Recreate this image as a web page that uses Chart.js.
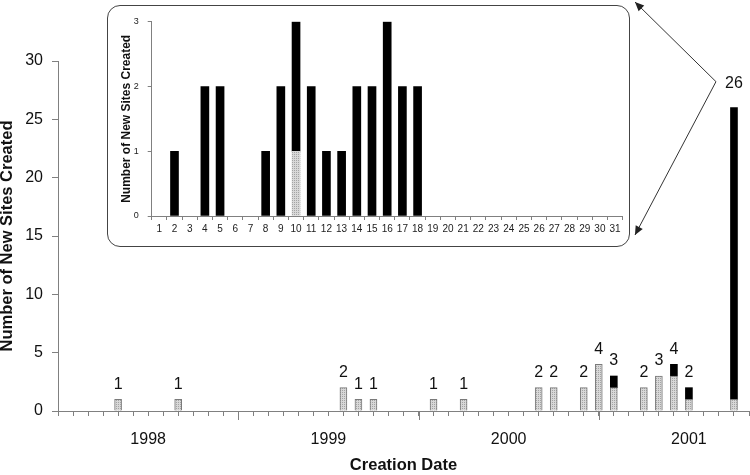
<!DOCTYPE html>
<html><head><meta charset="utf-8">
<script src="https://cdn.jsdelivr.net/npm/chart.js@4/dist/chart.umd.min.js"></script>
<style>
html,body{margin:0;padding:0;background:#fff;}
#wrap{position:relative;width:750px;height:475px;overflow:hidden;}
#main{position:absolute;left:0;top:0;}
#insetBox{position:absolute;left:107px;top:5px;width:523px;height:242px;box-sizing:border-box;border:1px solid #444;border-radius:13px;background:#fff;overflow:hidden;}
#inset{position:absolute;left:0;top:0;}
</style></head><body>
<div id="wrap">
<canvas id="main" width="750" height="475"></canvas>
<div id="insetBox"><canvas id="inset" width="521" height="240"></canvas></div>
</div>
<script>
// ---- Main chart data (monthly) ----
const months = [
 '1998-01','1998-02','1998-03','1998-04','1998-05','1998-06','1998-07','1998-08','1998-09','1998-10','1998-11','1998-12',
 '1999-01','1999-02','1999-03','1999-04','1999-05','1999-06','1999-07','1999-08','1999-09','1999-10','1999-11','1999-12',
 '2000-01','2000-02','2000-03','2000-04','2000-05','2000-06','2000-07','2000-08','2000-09','2000-10','2000-11','2000-12',
 '2001-01','2001-02','2001-03','2001-04','2001-05','2001-06','2001-07','2001-08','2001-09','2001-10','2001-11'
];
const barMonths   = ['1998-05','1998-09','1999-08','1999-09','1999-10','2000-02','2000-04','2000-09','2000-10','2000-12','2001-01','2001-02','2001-04','2001-05','2001-06','2001-07','2001-10'];
const greyValues  = [1,1,2,1,1,1,1,2,2,2,4,2,2,3,3,1,1];
const blackValues = [0,0,0,0,0,0,0,0,0,0,0,1,0,0,1,1,25];
const yearLabels  = ['1998','1999','2000','2001'];

// ---- Inset data (days of the highlighted month) ----
const days = ['1','2','3','4','5','6','7','8','9','10','11','12','13','14','15','16','17','18','19','20','21','22','23','24','25','26','27','28','29','30','31'];
const insetGrey  = [0,0,0,0,0,0,0,0,0,1,0,0,0,0,0,0,0,0,0,0,0,0,0,0,0,0,0,0,0,0,0];
const insetBlack = [0,1,0,2,2,0,0,1,2,2,2,1,1,2,2,3,2,2,0,0,0,0,0,0,0,0,0,0,0,0,0];

// build full monthly series (null where nothing is drawn)
const pick = (arr) => months.map(m => { const i = barMonths.indexOf(m); return (i >= 0 && arr[i] > 0) ? arr[i] : null; });
const greyFull = pick(greyValues);
const blackFull = pick(blackValues);
const nz = (arr) => arr.map(v => v > 0 ? v : null);

function makePattern(){
  const c = document.createElement('canvas'); c.width = 2; c.height = 2;
  const g = c.getContext('2d');
  g.fillStyle = '#d8d8d8'; g.fillRect(0,0,2,2);
  g.fillStyle = '#a4a4a4'; g.fillRect(0,0,1,1);
  return g.createPattern(c, 'repeat');
}
const pat = makePattern();
const FONT = "'Liberation Sans', Arial, sans-serif";

const labelPlugin = {
  id: 'totals',
  afterDatasetsDraw(chart) {
    const ctx = chart.ctx, xs = chart.scales.x, ys = chart.scales.y;
    const totals = months.map((m, i) => (greyFull[i] || 0) + (blackFull[i] || 0));
    const maxT = Math.max(...totals);
    ctx.save();
    ctx.font = '16px ' + FONT;
    ctx.fillStyle = '#111';
    ctx.textAlign = 'center';
    ctx.textBaseline = 'middle';
    totals.forEach((t, i) => {
      if (!t) return;
      const x = xs.getPixelForValue(i);
      const off = (t === maxT) ? 24 : 15;
      ctx.fillText(String(t), x, ys.getPixelForValue(t) - off);
    });
    // long year ticks
    ctx.strokeStyle = '#808080'; ctx.lineWidth = 1;
    months.forEach((m, i) => {
      if (i > 0 && m.endsWith('-01')) {
        const x = Math.round(xs.getPixelForValue(i)) + 0.5;
        ctx.beginPath(); ctx.moveTo(x, ys.bottom); ctx.lineTo(x, ys.bottom + 9); ctx.stroke();
      }
    });
    // arrows from the biggest bar's label to the inset frame
    const iMax = totals.indexOf(maxT);
    const lx = xs.getPixelForValue(iMax), ly = ys.getPixelForValue(maxT) - 24;
    const vx = lx - 18, vy = ly - 2;
    const box = document.getElementById('insetBox');
    const bR = box.offsetLeft + box.offsetWidth, bT = box.offsetTop, bB = box.offsetTop + box.offsetHeight;
    const ends = [[bR + 5, bT - 3], [bR + 5, bB - 12]];
    ctx.strokeStyle = '#333'; ctx.fillStyle = '#222';
    ends.forEach(([ex, ey]) => {
      ctx.beginPath(); ctx.moveTo(vx, vy); ctx.lineTo(ex, ey); ctx.stroke();
      const a = Math.atan2(ey - vy, ex - vx), L = 9, W = 4;
      ctx.beginPath();
      ctx.moveTo(ex, ey);
      ctx.lineTo(ex - L*Math.cos(a) + W*Math.sin(a), ey - L*Math.sin(a) - W*Math.cos(a));
      ctx.lineTo(ex - L*Math.cos(a) - W*Math.sin(a), ey - L*Math.sin(a) + W*Math.cos(a));
      ctx.closePath(); ctx.fill();
    });
    ctx.restore();
  }
};

new Chart(document.getElementById('main'), {
  type: 'bar',
  data: {
    labels: months,
    datasets: [
      { data: greyFull, backgroundColor: pat, borderColor: '#7a7a7a', borderWidth: 1, barThickness: 7 },
      { data: blackFull, backgroundColor: '#000', borderWidth: 0, barThickness: 7 }
    ]
  },
  options: {
    responsive: false, animation: false,
    layout: { padding: { top: 61, right: 1, bottom: 0, left: 0 } },
    plugins: { legend: { display: false }, tooltip: { enabled: false } },
    scales: {
      x: {
        type: 'category', stacked: true, offset: false,
        grid: { display: true, drawOnChartArea: false, drawTicks: true, tickLength: 5, color: '#808080', offset: false },
        border: { display: true, color: '#808080' },
        ticks: {
          autoSkip: false, maxRotation: 0, minRotation: 0, padding: 14.4,
          color: '#111', font: { family: FONT, size: 16 },
          callback: function(v, i) { const m = months[i]; return m.endsWith('-07') ? yearLabels[yearLabels.indexOf(m.slice(0,4))] : ''; }
        },
        title: { display: true, text: 'Creation Date', color: '#111', font: { family: FONT, size: 16.5, weight: 'bold' }, padding: { top: 0, bottom: 0 } },
        afterFit(s) { s.height = 64; s.paddingLeft = 0; s.paddingRight = 0; }
      },
      y: {
        stacked: true, min: 0, max: 30,
        grid: { display: true, drawOnChartArea: false, drawTicks: true, tickLength: 6, color: '#808080' },
        border: { display: true, color: '#808080' },
        ticks: { stepSize: 5, padding: 9, color: '#111', font: { family: FONT, size: 16 } },
        title: { display: true, text: 'Number of New Sites Created', color: '#111', font: { family: FONT, size: 16.5, weight: 'bold' }, padding: { top: -2, bottom: 0 } },
        afterFit(s) { s.width = 58; }
      }
    }
  },
  plugins: [labelPlugin]
});

new Chart(document.getElementById('inset'), {
  type: 'bar',
  data: {
    labels: days,
    datasets: [
      { data: nz(insetGrey), backgroundColor: pat, borderWidth: 0, barThickness: 8 },
      { data: nz(insetBlack), backgroundColor: '#000', borderWidth: 0, barThickness: 8 }
    ]
  },
  options: {
    responsive: false, animation: false,
    layout: { padding: { top: 15.7, right: 6.3, bottom: 0, left: 0 } },
    plugins: { legend: { display: false }, tooltip: { enabled: false } },
    scales: {
      x: {
        stacked: true,
        grid: { display: true, drawOnChartArea: false, drawTicks: true, tickLength: 4, color: '#808080' },
        border: { display: true, color: '#808080' },
        ticks: { autoSkip: false, maxRotation: 0, padding: 3.3, color: '#222', font: { family: FONT, size: 10 } },
        afterFit(s) { s.height = 30; s.paddingLeft = 0; s.paddingRight = 0; }
      },
      y: {
        stacked: true, min: 0, max: 3,
        grid: { display: true, drawOnChartArea: false, drawTicks: true, tickLength: 4, color: '#808080' },
        border: { display: true, color: '#808080' },
        ticks: { stepSize: 1, padding: 9, color: '#222', font: { family: FONT, size: 9 } },
        title: { display: true, text: 'Number of New Sites Created', color: '#111', font: { family: FONT, size: 12, weight: 'bold' }, padding: { top: 11.5, bottom: 0 } },
        afterFit(s) { s.width = 43.7; }
      }
    }
  }
});
</script>
</body></html>
